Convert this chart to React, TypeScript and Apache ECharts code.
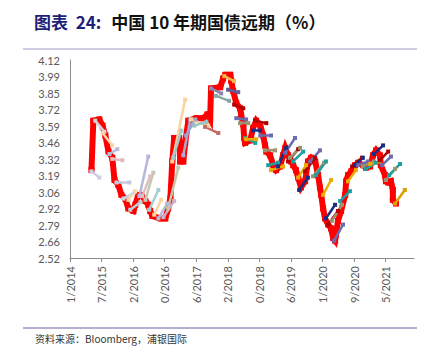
import React, { useEffect, useRef } from "react";
import * as echarts from "echarts";

// x positions are in tick units (0 = first tick label, 1 = next, ...)
const xLabels = ["1/2014", "7/2015", "2/2016", "0/2016", "6/2017", "2/2018", "0/2018", "6/2019", "1/2020", "9/2020", "5/2021"];
const yLabels = ["2.52", "2.66", "2.79", "2.92", "3.06", "3.19", "3.32", "3.46", "3.59", "3.72", "3.85", "3.99", "4.12"];
const yMin = 2.52;
const yMax = 4.12;
const xMax = 10.9;

// spot 10Y yield
const spotX = [
  0.68, 0.74, 0.93, 1.03, 1.12, 1.22, 1.34, 1.41, 1.53, 1.63, 1.75, 1.85, 2.01, 2.07, 2.16, 2.26, 2.39, 2.48, 2.54, 2.61,
  2.86, 3.02, 3.11, 3.18, 3.24, 3.3, 3.46, 3.49, 3.59, 3.65, 3.75, 4.0, 4.22, 4.35, 4.44, 4.47, 4.76, 4.85, 4.92, 5.08,
  5.11, 5.17, 5.27, 5.39, 5.42, 5.49, 5.52, 5.55, 5.71, 5.8, 5.9, 6.03, 6.12, 6.18, 6.22, 6.34, 6.44, 6.53, 6.66, 6.75,
  6.82, 6.91, 7.01, 7.07, 7.16, 7.23, 7.32, 7.45, 7.54, 7.64, 7.77, 7.86, 7.92, 7.96, 8.02, 8.08, 8.18, 8.27, 8.34, 8.4,
  8.43, 8.49, 8.59, 8.72, 8.75, 8.81, 8.91, 9.03, 9.13, 9.29, 9.38, 9.51, 9.6, 9.7, 9.82, 9.85, 9.98, 10.01, 10.08, 10.17,
  10.23, 10.23, 10.33,
];
const spotYield = [
  3.23, 3.63, 3.64, 3.59, 3.51, 3.38, 3.33, 3.15, 3.11, 3.03, 3.0, 2.92, 2.9, 2.95, 3.03, 3.03, 2.98, 2.95, 2.9, 2.86,
  2.84, 2.84, 2.92, 3.0, 3.3, 3.49, 3.49, 3.3, 3.3, 3.45, 3.63, 3.65, 3.65, 3.68, 3.64, 3.89, 3.9, 3.97, 4.0, 4.0,
  3.95, 3.87, 3.77, 3.73, 3.68, 3.6, 3.49, 3.45, 3.47, 3.57, 3.63, 3.59, 3.51, 3.43, 3.38, 3.35, 3.27, 3.23, 3.26, 3.35,
  3.41, 3.35, 3.3, 3.27, 3.23, 3.17, 3.09, 3.14, 3.3, 3.33, 3.3, 3.19, 3.09, 3.03, 2.92, 2.84, 2.79, 2.76, 2.68, 2.66,
  2.71, 2.82, 2.9, 3.03, 3.14, 3.19, 3.22, 3.27, 3.29, 3.27, 3.25, 3.26, 3.35, 3.39, 3.35, 3.27, 3.19, 3.14, 3.13, 3.14,
  3.07, 2.99, 2.96,
];

// forward curves: [startX, startYield, endX, endYield]
const fwdSegments = [
  [0.68, 3.22, 0.93, 3.17], [0.8, 3.63, 1.09, 3.54], [1.03, 3.53, 1.34, 3.43], [1.25, 3.36, 1.5, 3.4],
  [1.34, 3.32, 1.66, 3.31], [1.47, 3.13, 1.88, 3.13], [1.69, 3.0, 2.04, 3.05], [1.91, 2.91, 2.23, 2.97],
  [1.85, 2.99, 2.07, 3.06], [2.2, 3.02, 2.48, 3.34], [2.29, 3.02, 2.54, 3.18], [2.39, 2.99, 2.64, 3.21],
  [2.51, 2.91, 2.8, 3.07], [2.67, 2.87, 2.89, 2.99], [2.8, 2.84, 3.08, 2.96], [2.96, 2.85, 3.3, 2.98],
  [3.11, 2.92, 3.43, 3.25], [3.24, 3.3, 3.65, 3.8], [3.27, 3.33, 3.53, 3.55], [3.59, 3.35, 3.81, 3.64],
  [3.68, 3.51, 3.97, 3.64], [3.84, 3.64, 4.38, 3.59], [3.94, 3.59, 4.32, 3.62], [4.28, 3.58, 4.7, 3.53],
  [4.47, 3.89, 4.79, 3.85], [4.63, 3.83, 5.04, 3.79], [4.89, 3.99, 5.2, 3.95], [5.01, 3.88, 5.33, 3.86],
  [5.2, 3.76, 5.49, 3.73], [5.27, 3.65, 5.58, 3.64], [5.39, 3.61, 5.65, 3.61], [5.55, 3.49, 5.87, 3.45],
  [5.58, 3.48, 5.9, 3.48], [5.8, 3.55, 6.02, 3.55], [5.87, 3.63, 6.22, 3.61], [6.03, 3.51, 6.37, 3.51],
  [6.18, 3.39, 6.5, 3.39], [6.28, 3.27, 6.59, 3.29], [6.37, 3.23, 6.75, 3.26], [6.59, 3.26, 6.85, 3.41],
  [6.82, 3.37, 7.13, 3.49], [6.91, 3.3, 7.23, 3.4], [6.97, 3.33, 7.29, 3.41], [7.07, 3.3, 7.39, 3.38],
  [7.23, 3.17, 7.48, 3.27], [7.26, 3.07, 7.54, 3.17], [7.45, 3.22, 7.77, 3.33], [7.61, 3.3, 7.92, 3.39],
  [7.7, 3.18, 8.05, 3.29], [7.8, 3.19, 8.11, 3.3], [8.02, 3.03, 8.27, 3.15], [8.11, 2.84, 8.4, 2.95],
  [8.18, 2.79, 8.49, 2.9], [8.3, 2.82, 8.62, 2.95], [8.37, 2.66, 8.65, 2.79], [8.56, 2.98, 8.87, 3.06],
  [8.81, 3.14, 9.06, 3.23], [8.94, 3.26, 9.25, 3.33], [9.03, 3.27, 9.28, 3.33], [9.13, 3.27, 9.44, 3.3],
  [9.28, 3.26, 9.63, 3.3], [9.38, 3.24, 9.7, 3.29], [9.51, 3.28, 9.82, 3.3], [9.63, 3.36, 9.92, 3.43],
  [9.82, 3.31, 10.08, 3.38], [9.89, 3.27, 10.17, 3.34], [10.01, 3.15, 10.3, 3.24], [10.11, 3.19, 10.46, 3.28],
  [10.3, 2.96, 10.61, 3.07],
];
const fwdColors = [
  "#c9cde3", "#cfd4e2", "#fbd4ad", "#b9bcd9", "#e5b9ba", "#c3cadd", "#c7d6e6", "#b3d3d6",
  "#fbd6a6", "#b5b7db", "#e2bcc2", "#c5c9b3", "#a8cfd0", "#fbd49f", "#b9b9da", "#c9b3c9",
  "#c3c8ad", "#fcd39c", "#9fcbcc", "#a9acd5", "#9ea3cf", "#fbcf91", "#96c3c3", "#c46a64",
  "#8b87b3", "#86aaa3", "#f2b84a", "#5d5e9e", "#b30000", "#6b6bb0", "#9d9272", "#1f9e9e",
  "#e8ad00", "#1c2c80", "#b00000", "#6b6bb0", "#9d9272", "#1f9e9e", "#e8ad00", "#1c2c80",
  "#6b6bb0", "#b00000", "#9d9272", "#1f9e9e", "#e8ad00", "#1c2c80", "#b00000", "#6b6bb0",
  "#9d9272", "#1f9e9e", "#e8ad00", "#1c2c80", "#b00000", "#9d9272", "#6b6bb0", "#1f9e9e",
  "#e8ad00", "#b00000", "#1c2c80", "#6b6bb0", "#9d9272", "#1f9e9e", "#e8ad00", "#1c2c80",
  "#b00000", "#6b6bb0", "#9d9272", "#1f9e9e", "#d9a000",
];

const yStep = (yMax - yMin) / (yLabels.length - 1);
const yTickValues = yLabels.map((_, i) => yMin + i * yStep);
const xTickValues = xLabels.map((_, i) => i);

export default function App() {
  const ref = useRef<HTMLDivElement>(null);
  useEffect(() => {
    if (!ref.current) return;
    const chart = echarts.init(ref.current, null, { renderer: "svg" });
    const axisFont = { fontFamily: "Lato, 'Open Sans', sans-serif", fontSize: 11, color: "#595959" };
    const fwdSeries = fwdSegments.map((s, i) => ({
      type: "line",
      data: [
        [s[0], s[1]],
        [s[2], s[3]],
      ],
      symbol: "rect",
      symbolSize: 4,
      lineStyle: { color: fwdColors[i % fwdColors.length], width: 2.5 },
      itemStyle: { color: fwdColors[i % fwdColors.length] },
      z: 3,
      silent: true,
    }));
    chart.setOption({
      animation: false,
      title: {
        text: "{a|图表  24:}  {b|中国 10 年期国债远期（%）}",
        left: 26,
        top: 4,
        padding: 0,
        textStyle: {
          rich: {
            a: { fontFamily: "'Noto Sans CJK SC', sans-serif", fontWeight: "bold", fontSize: 17, color: "#1f1f78" },
            b: { fontFamily: "'Noto Sans CJK SC', sans-serif", fontWeight: "bold", fontSize: 17, color: "#111111" },
          },
        },
      },
      grid: { left: 62, right: 19, top: 52, bottom: 102 },
      xAxis: {
        type: "value",
        min: 0,
        max: xMax,
        splitLine: { show: false },
        axisLine: { show: true, lineStyle: { color: "#8c8c8c", width: 1 } },
        axisTick: { show: true, length: 4, lineStyle: { color: "#8c8c8c" }, customValues: xTickValues },
        axisLabel: {
          ...axisFont,
          rotate: 90,
          margin: 8,
          customValues: xTickValues,
          formatter: (v: number) => xLabels[Math.round(v)] ?? "",
        },
      },
      yAxis: {
        type: "value",
        min: yMin,
        max: yMax,
        splitLine: { show: false },
        axisLine: { show: true, lineStyle: { color: "#8c8c8c", width: 1 } },
        axisTick: { show: false },
        axisLabel: {
          ...axisFont,
          margin: 10,
          customValues: yTickValues,
          formatter: (v: number) => yLabels[Math.round((v - yMin) / yStep)] ?? "",
        },
      },
      graphic: [
        { type: "line", shape: { x1: 15, y1: 41, x2: 415, y2: 41 }, style: { stroke: "#9a9ac8", lineWidth: 1 } },
        { type: "line", shape: { x1: 15, y1: 320, x2: 415, y2: 320 }, style: { stroke: "#6f5fa3", lineWidth: 1 } },
        {
          type: "text",
          left: 27,
          top: 325,
          style: {
            text: "资料来源：Bloomberg，浦银国际",
            fontSize: 10,
            fill: "#333333",
            fontFamily: "'Noto Sans CJK SC', sans-serif",
          },
        },
      ],
      series: [
        {
          type: "line",
          data: spotX.map((x, i) => [x, spotYield[i]]),
          symbol: "rect",
          symbolSize: 6,
          itemStyle: { color: "#ff0000" },
          lineStyle: { color: "#ff0000", width: 6, join: "miter", cap: "butt" },
          z: 2,
          silent: true,
        },
        ...fwdSeries,
      ],
    });
    return () => chart.dispose();
  }, []);
  return <div ref={ref} style={{ width: 425, height: 352 }} />;
}
